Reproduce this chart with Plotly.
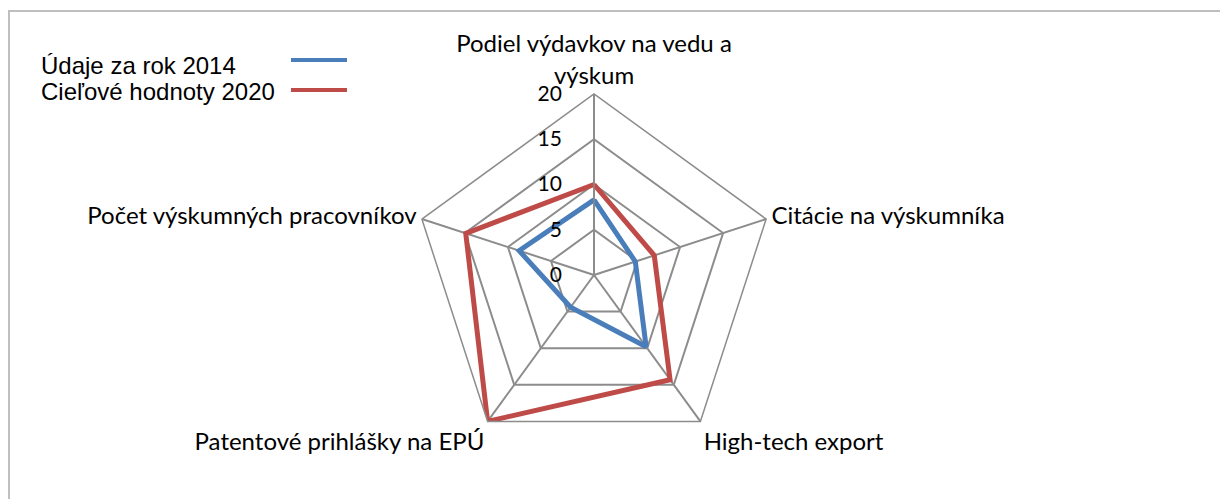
import plotly.graph_objects as go

categories = [
    "Podiel výdavkov na vedu a<br>výskum",
    "Citácie na výskumníka",
    "High-tech export",
    "Patentové prihlášky na EPÚ",
    "Počet výskumných pracovníkov",
]
series_names = ["Údaje za rok 2014", "Cieľové hodnoty 2020"]
values_2014 = [8.3, 4.8, 9.8, 4.4, 8.7]
values_2020 = [10.0, 7.0, 14.3, 20.0, 14.9]
radial_ticks = [0, 5, 10, 15, 20]
colors = ["#4A7EBB", "#BE4B48"]

# page body has an 8px margin; work in window pixels and subtract it
OFF = 8
W, H = 1228 - OFF, 499 - OFF
cx, cy, R = 594 - OFF, 275 - OFF, 181

fig = go.Figure()
for name, vals, col in zip(series_names, [values_2014, values_2020], colors):
    fig.add_trace(go.Scatterpolar(
        r=vals + vals[:1],
        theta=categories + categories[:1],
        mode="lines",
        line=dict(color=col, width=5),
        name=name,
        showlegend=False,
    ))

label_font = dict(family="Lato, Carlito, Calibri, sans-serif", size=24, color="#000000")

fig.update_layout(
    width=W, height=H,
    margin=dict(l=0, r=0, t=0, b=0),
    paper_bgcolor="white",
    plot_bgcolor="white",
    polar=dict(
        domain=dict(x=[(cx - R) / W, (cx + R) / W], y=[(H - cy - R) / H, (H - cy + R) / H]),
        gridshape="linear",
        bgcolor="white",
        radialaxis=dict(
            range=[0, 20],
            tickvals=radial_ticks,
            angle=90,
            side="counterclockwise",
            tickangle=90,
            showline=True,
            linecolor="#8C8C8C",
            linewidth=1.5,
            gridcolor="#8C8C8C",
            gridwidth=1.5,
            ticks="outside",
            ticklen=24,
            tickcolor="rgba(0,0,0,0)",
            tickfont=dict(family="Lato, Carlito, Calibri, sans-serif", size=21, color="#000000"),
        ),
        angularaxis=dict(
            rotation=90,
            direction="clockwise",
            showline=True,
            linecolor="#8C8C8C",
            linewidth=1.5,
            gridcolor="#8C8C8C",
            gridwidth=1.5,
            ticks="",
            tickfont=label_font,
        ),
    ),
)

# manual legend (text on the left, line sample on the right)
legend_text_y = [66 - OFF, 91 - OFF]
legend_line_y = [60 - OFF, 90 - OFF]
for name, col, ty, ly in zip(series_names, colors, legend_text_y, legend_line_y):
    fig.add_annotation(
        x=(39 - OFF) / W, y=1 - ty / H, xref="paper", yref="paper",
        text=name, showarrow=False, xanchor="left", yanchor="middle",
        font=dict(family="Liberation Sans, Arial, sans-serif", size=24, color="#000000"),
    )
    fig.add_shape(
        type="line", xref="paper", yref="paper",
        x0=(291 - OFF) / W, x1=(347 - OFF) / W, y0=1 - ly / H, y1=1 - ly / H,
        line=dict(color=col, width=4),
    )

# chart-area border
fig.add_shape(
    type="rect", xref="paper", yref="paper",
    x0=(9 - OFF) / W, x1=1.02, y0=-0.05, y1=1 - (11 - OFF) / H,
    line=dict(color="#BFBFBF", width=2),
    fillcolor="rgba(0,0,0,0)",
)

fig.write_html("out.html")
